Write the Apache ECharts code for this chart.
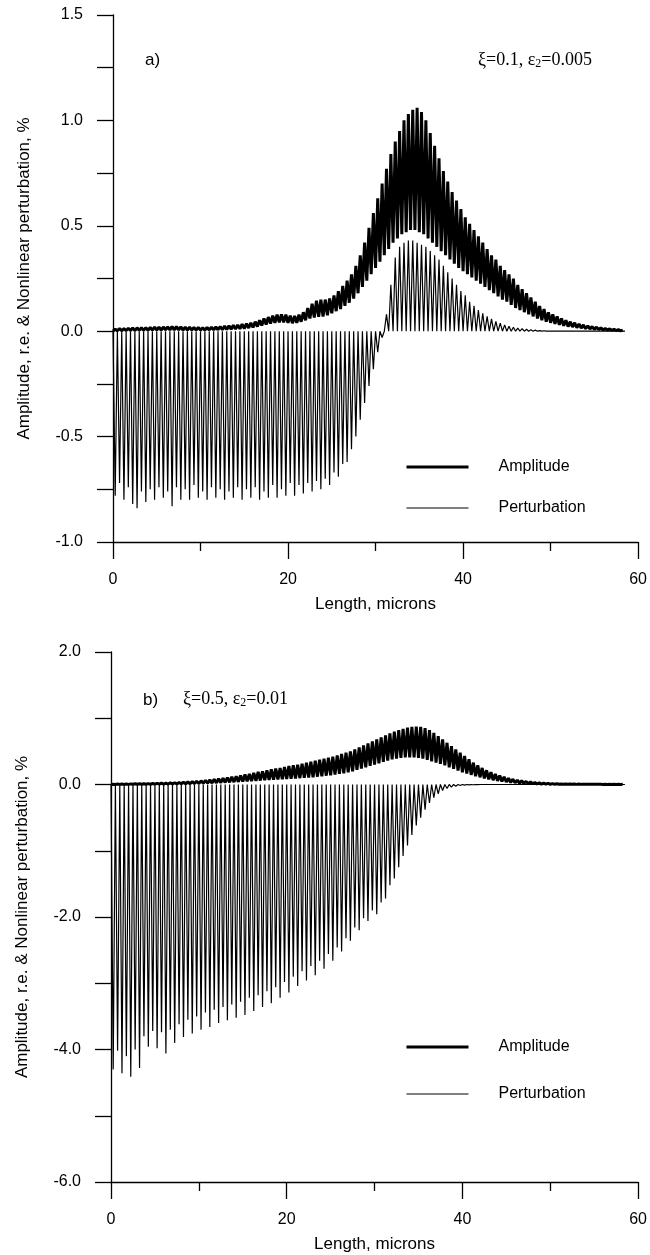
<!DOCTYPE html>
<html><head><meta charset="utf-8">
<script src="https://cdn.jsdelivr.net/npm/echarts@6/dist/echarts.min.js"></script>
<style>html,body{margin:0;padding:0;background:#fff}#c{width:650px;height:1255px}</style>
</head><body><div id="c"></div>
<script>
// one oscillation cycle every 0.5 micron; one value per cycle, x = 0, 0.5, ... 58
const period = 0.5;
const seriesNames = ['Amplitude', 'Perturbation'];
const yLabelDecimals = 1;

// ---- panel a) xi=0.1, eps2=0.005 ----
const ampHiA = [
 0.010,0.012,0.012,0.014,0.015,0.016,0.016,0.017,0.018,0.019,
 0.020,0.020,0.021,0.022,0.022,0.021,0.020,0.019,0.018,0.018,
 0.017,0.018,0.019,0.020,0.022,0.024,0.026,0.028,0.030,0.033,
 0.036,0.040,0.045,0.052,0.060,0.067,0.074,0.078,0.080,0.078,
 0.074,0.072,0.078,0.090,0.110,0.130,0.145,0.150,0.150,0.155,
 0.170,0.190,0.215,0.240,0.270,0.310,0.360,0.420,0.490,0.560,
 0.630,0.700,0.770,0.840,0.900,0.950,1.000,1.030,1.050,1.060,
 1.040,1.000,0.940,0.880,0.820,0.760,0.710,0.660,0.620,0.580,
 0.540,0.510,0.480,0.450,0.420,0.390,0.360,0.340,0.310,0.290,
 0.270,0.250,0.220,0.200,0.180,0.160,0.140,0.120,0.105,0.090,
 0.080,0.070,0.060,0.052,0.045,0.040,0.034,0.030,0.025,0.022,
 0.019,0.016,0.013,0.011,0.009,0.007,0.005];
const ampLoA = [
 0.000,0.002,0.002,0.003,0.003,0.003,0.004,0.004,0.004,0.005,
 0.005,0.005,0.006,0.006,0.006,0.006,0.005,0.005,0.005,0.005,
 0.005,0.005,0.006,0.006,0.007,0.007,0.008,0.009,0.010,0.011,
 0.012,0.015,0.018,0.022,0.027,0.032,0.036,0.040,0.042,0.042,
 0.040,0.038,0.040,0.045,0.052,0.060,0.065,0.068,0.070,0.075,
 0.085,0.095,0.105,0.120,0.135,0.155,0.180,0.210,0.240,0.270,
 0.300,0.330,0.360,0.390,0.420,0.440,0.460,0.470,0.480,0.480,
 0.470,0.460,0.440,0.420,0.400,0.380,0.360,0.340,0.320,0.300,
 0.285,0.270,0.255,0.240,0.225,0.210,0.195,0.180,0.165,0.150,
 0.140,0.125,0.110,0.100,0.090,0.080,0.070,0.060,0.052,0.045,
 0.040,0.035,0.030,0.026,0.022,0.020,0.017,0.015,0.012,0.011,
 0.009,0.008,0.006,0.005,0.004,0.003,0.002];
const pertA = [
 -0.78,-0.72,-0.80,-0.74,-0.82,-0.84,-0.76,-0.81,-0.75,-0.80,
 -0.74,-0.79,-0.76,-0.83,-0.74,-0.80,-0.75,-0.80,-0.73,-0.79,
 -0.76,-0.80,-0.74,-0.79,-0.75,-0.80,-0.76,-0.79,-0.74,-0.80,
 -0.75,-0.79,-0.74,-0.80,-0.76,-0.79,-0.73,-0.79,-0.75,-0.78,
 -0.72,-0.78,-0.73,-0.77,-0.72,-0.76,-0.71,-0.75,-0.70,-0.73,
 -0.67,-0.69,-0.63,-0.62,-0.56,-0.50,-0.42,-0.34,-0.26,-0.18,
 -0.10,-0.03,0.08,0.22,0.35,0.40,0.42,0.43,0.43,0.42,
 0.41,0.40,0.38,0.36,0.34,0.31,0.28,0.25,0.22,0.19,
 0.17,0.14,0.12,0.10,0.085,0.07,0.058,0.047,0.038,0.030,
 0.024,0.019,0.015,0.012,0.009,0.007,0.005,0.003,0.002,0.001,
 0,0,0,0,0,0,0,0,0,0,
 0,0,0,0,0,0,0];

// ---- panel b) xi=0.5, eps2=0.01 ----
const ampHiB = [
 0.005,0.006,0.007,0.008,0.009,0.010,0.011,0.012,0.013,0.015,
 0.017,0.019,0.021,0.024,0.027,0.030,0.034,0.038,0.043,0.050,
 0.055,0.062,0.070,0.078,0.086,0.095,0.105,0.115,0.125,0.135,
 0.150,0.160,0.175,0.190,0.200,0.215,0.230,0.240,0.250,0.265,
 0.280,0.290,0.300,0.315,0.330,0.345,0.360,0.375,0.390,0.405,
 0.420,0.440,0.460,0.480,0.500,0.530,0.560,0.590,0.620,0.650,
 0.680,0.710,0.740,0.770,0.800,0.820,0.840,0.860,0.870,0.875,
 0.870,0.850,0.820,0.780,0.730,0.680,0.630,0.580,0.530,0.480,
 0.430,0.380,0.330,0.290,0.250,0.215,0.185,0.160,0.135,0.115,
 0.095,0.080,0.067,0.056,0.046,0.038,0.031,0.025,0.020,0.016,
 0.013,0.011,0.009,0.008,0.007,0.006,0.006,0.005,0.005,0.004,
 0.004,0.004,0.003,0.003,0.003,0.002,0.002];
const ampLoB = [
 0.001,0.001,0.002,0.002,0.002,0.003,0.003,0.003,0.004,0.004,
 0.005,0.005,0.006,0.007,0.008,0.009,0.010,0.011,0.012,0.014,
 0.016,0.018,0.020,0.022,0.025,0.028,0.031,0.034,0.037,0.040,
 0.044,0.048,0.052,0.056,0.060,0.064,0.068,0.072,0.076,0.080,
 0.084,0.088,0.092,0.096,0.100,0.105,0.110,0.118,0.125,0.133,
 0.140,0.150,0.160,0.170,0.185,0.200,0.220,0.240,0.260,0.280,
 0.300,0.320,0.340,0.360,0.380,0.390,0.400,0.410,0.410,0.410,
 0.400,0.390,0.370,0.350,0.330,0.310,0.290,0.260,0.235,0.210,
 0.185,0.165,0.145,0.125,0.108,0.092,0.078,0.066,0.055,0.046,
 0.038,0.031,0.025,0.020,0.016,0.013,0.010,0.008,0.006,0.005,
 0.004,0.004,0.003,0.003,0.003,0.003,0.002,0.002,0.002,0.002,
 0.002,0.002,0.001,0.001,0.001,0.001,0.001];
const pertB = [
 -4.30,-4.02,-4.36,-4.10,-4.41,-4.00,-4.28,-3.80,-3.96,-3.72,
 -3.98,-3.74,-4.06,-3.70,-3.90,-3.62,-3.81,-3.55,-3.76,-3.50,
 -3.70,-3.44,-3.66,-3.40,-3.60,-3.36,-3.56,-3.32,-3.52,-3.28,
 -3.48,-3.22,-3.42,-3.18,-3.36,-3.12,-3.30,-3.06,-3.22,-2.98,
 -3.14,-2.90,-3.04,-2.82,-2.96,-2.74,-2.88,-2.66,-2.78,-2.56,
 -2.66,-2.46,-2.52,-2.32,-2.36,-2.16,-2.20,-2.02,-2.06,-1.90,
 -1.96,-1.78,-1.72,-1.52,-1.42,-1.25,-1.08,-0.92,-0.76,-0.62,
 -0.50,-0.38,-0.28,-0.20,-0.14,-0.09,-0.06,-0.04,-0.025,-0.015,
 -0.010,-0.006,-0.004,-0.002,0,0,0,0,0,0,
 0,0,0,0,0,0,0,0,0,0,
 0,0,0,0,0,0,0,0,0,0,
 0,0,0,0,0,0,0];

function ampData(hi, lo) {
  const d = [];
  for (let i = 0; i < hi.length; i++) {
    d.push([i * period, lo[i]]);
    d.push([i * period + period / 2, hi[i]]);
  }
  return d;
}
function pertData(v) {
  const d = [];
  for (let i = 0; i < v.length; i++) {
    d.push([i * period, 0]);
    d.push([i * period + period / 2, v[i]]);
  }
  d.push([v.length * period, 0]);
  return d;
}

const font = "'Liberation Sans', Arial, Helvetica, sans-serif";
const serif = "'Liberation Serif', 'Times New Roman', serif";
const axisLine = { show: true, onZero: false, lineStyle: { color: '#000', width: 1.3 } };

function xAx(gi) {
  return {
    type: 'value', gridIndex: gi, min: 0, max: 60, interval: 20,
    axisLine: axisLine,
    axisTick: { show: true, length: 17, lineStyle: { color: '#000', width: 1.3 } },
    minorTick: { show: true, splitNumber: 2, length: 9, lineStyle: { color: '#000', width: 1.3 } },
    splitLine: { show: false }, minorSplitLine: { show: false },
    axisLabel: { color: '#000', fontSize: 16, fontFamily: font, margin: 30 },
    name: 'Length, microns', nameLocation: 'middle', nameGap: 54,
    nameTextStyle: { color: '#000', fontSize: 17, fontFamily: font }
  };
}
function yAx(gi, mn, mx, step) {
  return {
    type: 'value', gridIndex: gi, min: mn, max: mx, interval: step,
    axisLine: axisLine,
    axisTick: { show: true, length: 16, lineStyle: { color: '#000', width: 1.3 } },
    minorTick: { show: true, splitNumber: 2, length: 16, lineStyle: { color: '#000', width: 1.3 } },
    splitLine: { show: false }, minorSplitLine: { show: false },
    axisLabel: { color: '#000', fontSize: 16, fontFamily: font, margin: 30,
      formatter: v => v.toFixed(yLabelDecimals) },
    name: 'Amplitude, r.e. & Nonlinear perturbation, %', nameLocation: 'middle', nameRotate: 90, nameGap: 80,
    nameTextStyle: { color: '#000', fontSize: 17, fontFamily: font }
  };
}
function legendAt(top, gap) {
  return {
    orient: 'vertical', left: 405, top: top, padding: 0, itemWidth: 62, itemHeight: 14, itemGap: gap,
    selectedMode: false,
    itemStyle: { opacity: 0 },
    data: [
      { name: seriesNames[0], lineStyle: { color: '#000', width: 3 } },
      { name: seriesNames[1], lineStyle: { color: '#000', width: 1 } }
    ],
    textStyle: { color: '#000', fontSize: 16, fontFamily: font, padding: [0, 0, 0, 25] }
  };
}
function series(gi, hi, lo, pert) {
  return [
    { name: seriesNames[1], type: 'line', xAxisIndex: gi, yAxisIndex: gi, data: pertData(pert),
      symbol: 'none', showSymbol: false, silent: true, z: 2,
      lineStyle: { color: '#000', width: 1.2 }, itemStyle: { color: '#000' } },
    { name: seriesNames[0], type: 'line', xAxisIndex: gi, yAxisIndex: gi, data: ampData(hi, lo),
      symbol: 'none', showSymbol: false, silent: true, z: 3,
      lineStyle: { color: '#000', width: 3 }, itemStyle: { color: '#000' } }
  ];
}
function paramText(left, top, txt1, txt2) {
  return { type: 'text', left: left, top: top, style: {
    text: '{a|' + txt1 + '}{s|2}{a|' + txt2 + '}',
    rich: { a: { fontFamily: serif, fontSize: 18, fill: '#000' },
            s: { fontFamily: serif, fontSize: 12, fill: '#000', padding: [7, 0, 0, 0] } } } };
}

const chart = echarts.init(document.getElementById('c'));
chart.setOption({
  animation: false,
  backgroundColor: '#fff',
  grid: [
    { left: 113, top: 15, width: 528, height: 527 },
    { left: 111, top: 652, width: 529, height: 530 }
  ],
  xAxis: [xAx(0), xAx(1)],
  yAxis: [yAx(0, -1, 1.5, 0.5), yAx(1, -6, 2, 2)],
  legend: [legendAt(459, 25), legendAt(1039, 31)],
  series: series(0, ampHiA, ampLoA, pertA).concat(series(1, ampHiB, ampLoB, pertB)),
  graphic: [
    { type: 'text', left: 145, top: 52, style: { text: 'a)', fontFamily: font, fontSize: 17, fill: '#000' } },
    paramText(478, 51, 'ξ=0.1, ε', '=0.005'),
    { type: 'text', left: 143, top: 692, style: { text: 'b)', fontFamily: font, fontSize: 17, fill: '#000' } },
    paramText(183, 690, 'ξ=0.5, ε', '=0.01')
  ]
});
</script></body></html>
